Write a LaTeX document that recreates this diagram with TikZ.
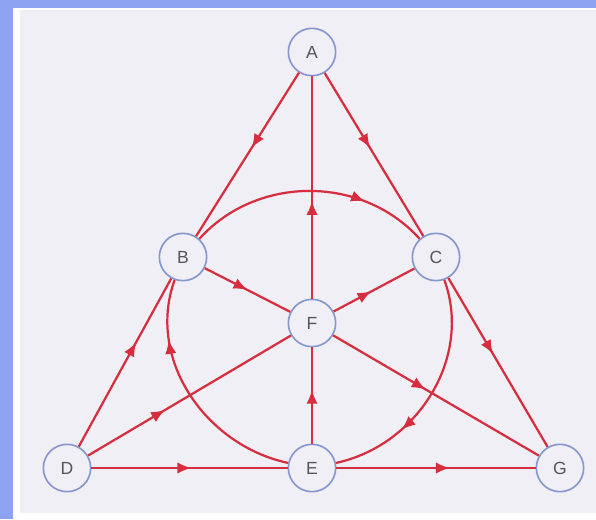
\documentclass[tikz,border=0pt]{standalone}
\usepackage{fontspec}
\setmainfont{Liberation Sans}
\usetikzlibrary{arrows.meta, decorations.markings}
\definecolor{fanored}{HTML}{D62E3E}
\definecolor{fanoblue}{HTML}{8597CC}
\definecolor{fanofill}{HTML}{EFEFF5}
\definecolor{fanotext}{HTML}{55555E}
\definecolor{frameblue}{HTML}{8EA3F0}

\begin{document}
\begin{tikzpicture}[
    x=0.03cm, y=0.03cm,
    every node/.style={font=\fontsize{15}{17}\selectfont},
    vertex/.style={circle, draw=fanoblue, fill=fanofill, line width=1.4pt, minimum size=1.42cm, inner sep=0pt, text=fanotext},
    edge/.style={fanored, line width=1.9pt},
    midarrow/.style={postaction={decorate}, decoration={markings, mark=at position #1 with {\arrow{Latex[length=4.2mm, width=3.4mm]}}}}
]
    % Frame
    \useasboundingbox (0,0) rectangle (596,519);
    \fill[frameblue] (0,0) rectangle (596,519);
    \fill[white] (13,0) rectangle (596,511);
    \fill[fanofill] (20,6) rectangle (596,509);

    % Points
    \node[vertex] (A) at (312,467) {A};
    \node[vertex] (B) at (183,262) {B};
    \node[vertex] (C) at (436,262) {C};
    \node[vertex] (F) at (312,196) {F};
    \node[vertex] (D) at (67,51) {D};
    \node[vertex] (E) at (312,51) {E};
    \node[vertex] (G) at (560,51) {G};

    % Sides
    \draw[edge, midarrow=0.46] (A) -- (B);
    \draw[edge, midarrow=0.46] (A) -- (C);
    \draw[edge, midarrow=0.62] (D) -- (B);
    \draw[edge, midarrow=0.45] (C) -- (G);
    \draw[edge, midarrow=0.51] (D) -- (E);
    \draw[edge, midarrow=0.57] (E) -- (G);

    % Medians through F
    \draw[edge, midarrow=0.56] (E) -- (F);
    \draw[edge, midarrow=0.44] (F) -- (A);
    \draw[edge, midarrow=0.5] (B) -- (F);
    \draw[edge, midarrow=0.45] (F) -- (G);
    \draw[edge, midarrow=0.38] (D) -- (F);
    \draw[edge, midarrow=0.47] (F) -- (C);

    % Circle
    \draw[edge, midarrow=0.73] (B) to[out=48, in=132] (C);
    \draw[edge, midarrow=0.69] (C) to[out=-70, in=12] (E);
    \draw[edge, midarrow=0.75] (E) to[out=168, in=-110] (B);
\end{tikzpicture}
\end{document}
